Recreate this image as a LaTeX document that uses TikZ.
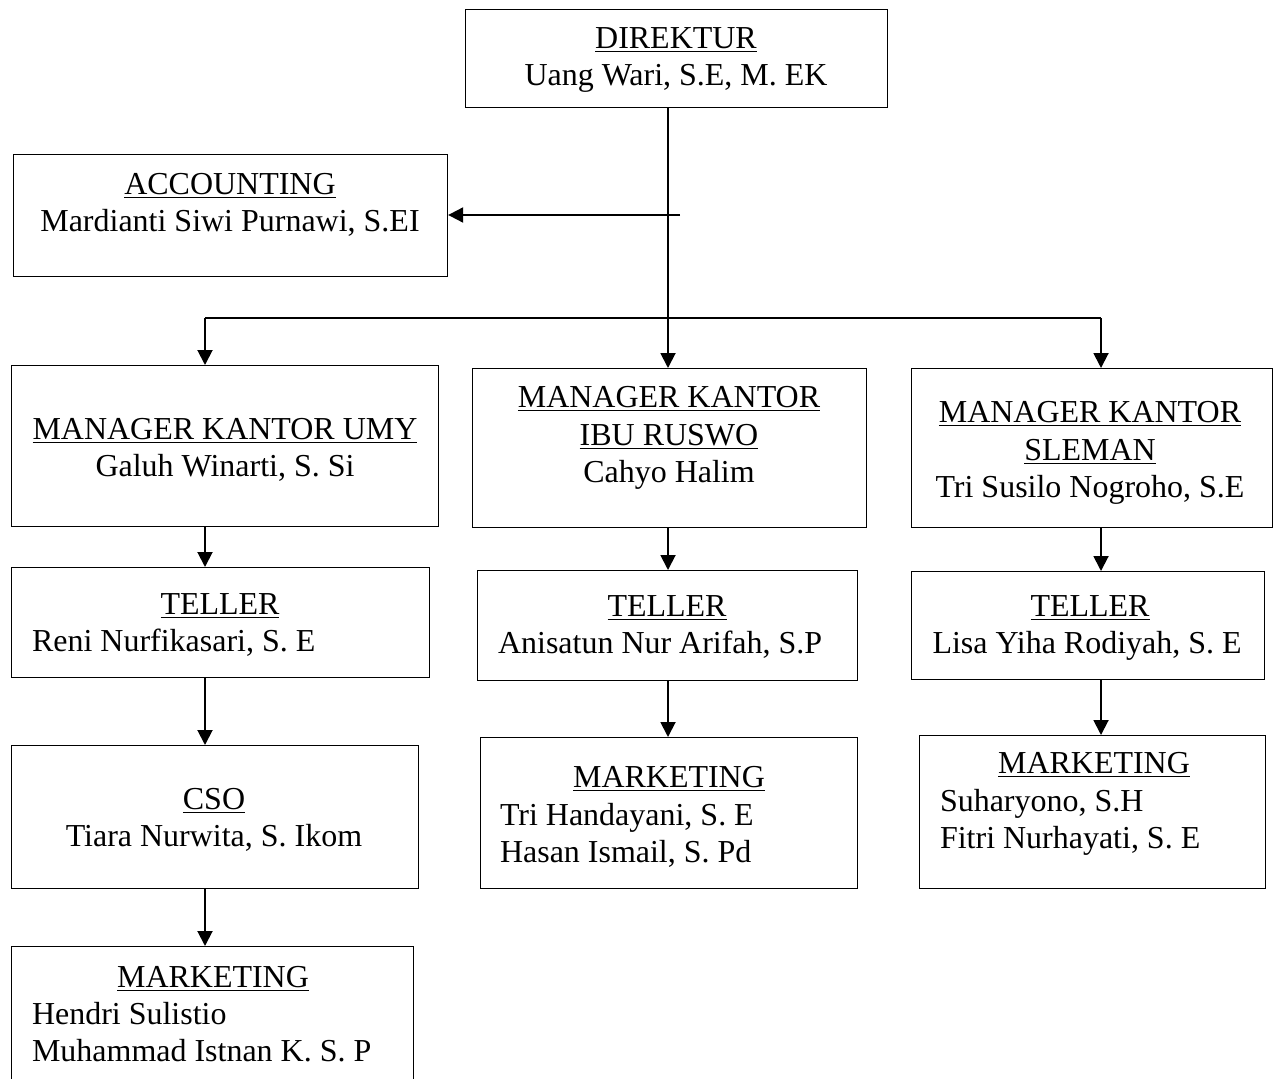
\documentclass[tikz,border=0pt]{standalone}
\usepackage{fontspec}
\setmainfont{Liberation Serif}
\usetikzlibrary{arrows.meta}

\begin{document}
\begin{tikzpicture}[x=0.02cm,y=-0.02cm,
  box/.style={draw,line width=0.7pt,anchor=north west,inner sep=0pt},
  ctxt/.style={align=center,inner sep=0pt,font=\fontsize{18.2}{21.2}\selectfont},
  ltxt/.style={align=flush left,inner sep=0pt,font=\fontsize{18.2}{21.2}\selectfont},
  arr/.style={line width=1.1pt,-{Triangle[width=0.3cm,length=0.3cm]}}]
  \useasboundingbox (0,0) rectangle (1277,1078);

  % KOTAK
  \node[box,minimum width=8.44cm,minimum height=1.96cm] (dir) at (465,9) {};
  \node[box,minimum width=8.68cm,minimum height=2.44cm] (acc) at (13,154) {};
  \node[box,minimum width=8.54cm,minimum height=3.22cm] (mumy) at (11,365) {};
  \node[box,minimum width=7.88cm,minimum height=3.18cm] (mrus) at (472,368) {};
  \node[box,minimum width=7.22cm,minimum height=3.18cm] (msle) at (911,368) {};
  \node[box,minimum width=8.36cm,minimum height=2.20cm] (tumy) at (11,567) {};
  \node[box,minimum width=7.60cm,minimum height=2.20cm] (trus) at (477,570) {};
  \node[box,minimum width=7.06cm,minimum height=2.16cm] (tsle) at (911,571) {};
  \node[box,minimum width=8.14cm,minimum height=2.86cm] (cso) at (11,745) {};
  \node[box,minimum width=7.54cm,minimum height=3.02cm] (krus) at (480,737) {};
  \node[box,minimum width=6.92cm,minimum height=3.06cm] (ksle) at (919,735) {};
  \node[box,minimum width=8.04cm,minimum height=3.00cm] (kumy) at (11,946) {};

  % TEKS
  \node[ctxt] (dirt) at (676,60) {\underline{DIREKTUR}\\Uang Wari, S.E, M. EK};
  \node[ctxt] (acct) at (230,205) {\underline{ACCOUNTING}\\Mardianti Siwi Purnawi, S.EI};
  \node[ctxt] (mumyt) at (225,450) {\underline{MANAGER KANTOR UMY}\\Galuh Winarti, S. Si};
  \node[ctxt] (mrust) at (669,438) {\underline{MANAGER KANTOR}\\\underline{IBU RUSWO}\\Cahyo Halim};
  \node[ctxt] (mslet) at (1090,453) {\underline{MANAGER KANTOR}\\\underline{SLEMAN}\\Tri Susilo Nogroho, S.E};
  \node[ltxt,text width=7.52cm] (tumyt) at (220,625) {\makebox[\linewidth]{\underline{TELLER}}\\Reni Nurfikasari, S. E};
  \node[ltxt,text width=6.76cm] (trust) at (667,627) {\makebox[\linewidth]{\underline{TELLER}}\\Anisatun Nur Arifah, S.P};
  \node[ltxt,text width=6.30cm] (tslet) at (1090,628) {\makebox[\linewidth]{\underline{TELLER}}\\Lisa Yiha Rodiyah, S. E};
  \node[ctxt] (csot) at (214,820) {\underline{CSO}\\Tiara Nurwita, S. Ikom};
  \node[ltxt,text width=6.76cm] (krust) at (669,817) {\makebox[\linewidth]{\underline{MARKETING}}\\Tri Handayani, S. E\\Hasan Ismail, S. Pd};
  \node[ltxt,text width=6.16cm] (kslet) at (1094,804) {\makebox[\linewidth]{\underline{MARKETING}}\\Suharyono, S.H\\Fitri Nurhayati, S. E};
  \node[ltxt,text width=7.24cm] (kumyt) at (213,1014) {\makebox[\linewidth]{\underline{MARKETING}}\\Hendri Sulistio\\Muhammad Istnan K. S. P};

  % GARIS
  \coordinate (bl) at (205,318);
  \coordinate (bm) at (668,318);
  \coordinate (br) at (1101,318);
  \coordinate (ja) at (680,215);
  \draw[line width=0.75pt] (dir.south -| bm) -- (bm);
  \draw[arr] (ja) -- (ja -| acc.east);
  \draw[line width=1.1pt] (bl) -- (br);

  \draw[arr] (bl) -- (bl |- mumy.north);
  \draw[arr] (bm) -- (bm |- mrus.north);
  \draw[arr] (br) -- (br |- msle.north);

  \draw[arr] (mumy.south -| bl) -- (tumy.north -| bl);
  \draw[arr] (tumy.south -| bl) -- (cso.north -| bl);
  \draw[arr] (cso.south -| bl) -- (kumy.north -| bl);
  \draw[arr] (mrus.south -| bm) -- (trus.north -| bm);
  \draw[arr] (trus.south -| bm) -- (krus.north -| bm);
  \draw[arr] (msle.south -| br) -- (tsle.north -| br);
  \draw[arr] (tsle.south -| br) -- (ksle.north -| br);
\end{tikzpicture}
\end{document}
